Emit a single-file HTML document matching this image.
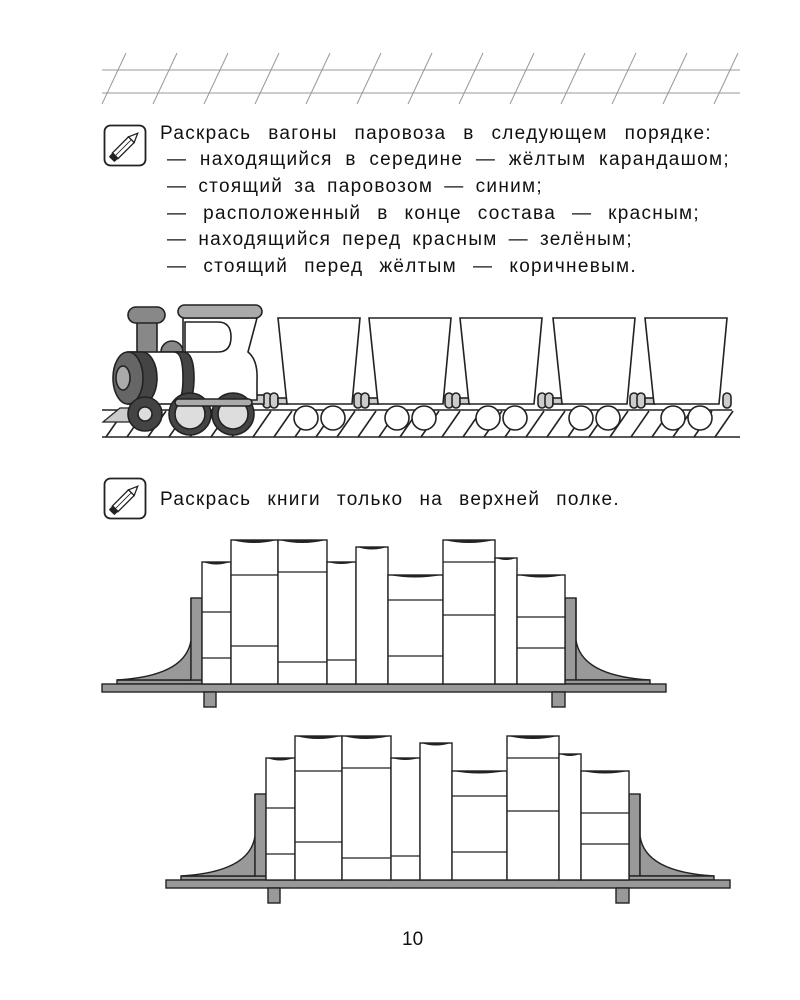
<!DOCTYPE html>
<html><head><meta charset="utf-8"><style>
html,body{margin:0;padding:0;background:#fff}
svg{display:block}
.t{position:absolute;font-family:"Liberation Sans",sans-serif;font-size:19px;letter-spacing:1.3px;color:#111;text-align:justify;text-align-last:justify;white-space:nowrap;line-height:20px}
.t span{display:block}
</style></head><body>
<div style="position:relative;width:800px;height:1000px">
<svg width="800" height="1000" viewBox="0 0 800 1000" xmlns="http://www.w3.org/2000/svg" style="position:absolute;left:0;top:0">
<g stroke="#999" stroke-width="1" fill="none">
<line x1="102" y1="70" x2="740" y2="70"/>
<line x1="102" y1="93" x2="740" y2="93"/>
<g id="sl"><line x1="102" y1="104" x2="126" y2="53"/></g>
<use href="#sl" x="51"/><use href="#sl" x="102"/><use href="#sl" x="153"/><use href="#sl" x="204"/><use href="#sl" x="255"/><use href="#sl" x="306"/><use href="#sl" x="357"/><use href="#sl" x="408"/><use href="#sl" x="459"/><use href="#sl" x="510"/><use href="#sl" x="561"/><use href="#sl" x="612"/>
</g>
<g id="pen">
<rect x="104.5" y="125.5" width="41" height="40" rx="6" fill="none" stroke="#222" stroke-width="1.8"/>
<g transform="translate(125,146) rotate(-45)">
<rect x="-14" y="-4" width="23" height="8" fill="#fff" stroke="#222" stroke-width="1.3"/>
<rect x="-19" y="-4" width="6" height="8" rx="1" fill="#222"/>
<polygon points="9,-4 18,0 9,4" fill="#fff" stroke="#222" stroke-width="1.3"/>
<line x1="-13" y1="0" x2="9" y2="0" stroke="#222" stroke-width="0.8"/>
</g>
</g>
<use href="#pen" y="353"/>
<text x="402" y="945" style="font-family:'Liberation Sans',sans-serif;font-size:19px" fill="#111">10</text>

<g stroke="#222" stroke-width="1.6" fill="none">
<line x1="102" y1="410" x2="732" y2="410"/>
<line x1="102" y1="437" x2="740" y2="437"/>
<g id="h"><line x1="106" y1="437" x2="124" y2="411"/></g>
<use href="#h" x="21"/><use href="#h" x="42"/><use href="#h" x="63"/><use href="#h" x="84"/><use href="#h" x="105"/><use href="#h" x="126"/><use href="#h" x="147"/><use href="#h" x="168"/><use href="#h" x="189"/><use href="#h" x="210"/><use href="#h" x="231"/><use href="#h" x="252"/><use href="#h" x="273"/><use href="#h" x="294"/><use href="#h" x="315"/><use href="#h" x="336"/><use href="#h" x="357"/><use href="#h" x="378"/><use href="#h" x="399"/><use href="#h" x="420"/><use href="#h" x="441"/><use href="#h" x="462"/><use href="#h" x="483"/><use href="#h" x="504"/><use href="#h" x="525"/><use href="#h" x="546"/><use href="#h" x="567"/><use href="#h" x="588"/><use href="#h" x="609"/>
</g>
<polygon points="103,422 120,408 150,408 150,422" fill="#ccc" stroke="#222" stroke-width="1.2"/>

<g id="car" stroke="#222" stroke-width="1.6">
<rect x="263" y="393" width="8" height="15" rx="4" fill="#ccc"/>
<rect x="270" y="393" width="8" height="15" rx="4" fill="#ccc"/>
<rect x="278" y="398" width="10" height="6" fill="#ccc"/>
<polygon points="278,318 360,318 352,404 287,404" fill="#fff"/>
<circle cx="306" cy="418" r="12" fill="#fff"/>
<circle cx="333" cy="418" r="12" fill="#fff"/>
</g>
<use href="#car" x="91"/><use href="#car" x="182"/><use href="#car" x="275"/><use href="#car" x="367"/>
<rect x="723" y="393" width="8" height="15" rx="4" fill="#ccc" stroke="#222" stroke-width="1.6"/>

<g stroke="#222" stroke-width="1.6">
<rect x="250" y="395" width="14" height="9" fill="#ccc"/>
<path d="M183,318 L257,318 L248,352 Q258,360 257,380 L257,400 L160,400 L160,352 L183,352 Z" fill="#fff"/>
<rect x="178" y="305" width="84" height="13" rx="6.5" fill="#aaa"/>
<path d="M185,322 L218,322 Q231,322 231,337 Q231,352 218,352 L185,352 Z" fill="#fff"/>
<rect x="137" y="320" width="20" height="33" fill="#888"/>
<rect x="128" y="307" width="37" height="16" rx="8" fill="#888"/>
<path d="M161,352 A11,11 0 0 1 183,352 Z" fill="#888"/>
<rect x="128" y="352" width="56" height="52" fill="#fff"/>
<path d="M174,352 L183,352 Q194,352 194,378 Q194,404 183,404 L174,404 Q183,404 183,378 Q183,352 174,352 Z" fill="#444"/>
<path d="M128,352 L142,352 A15,26 0 0 1 142,404 L128,404 Z" fill="#444"/>
<ellipse cx="128" cy="378" rx="15" ry="26" fill="#666"/>
<ellipse cx="123" cy="378" rx="7" ry="12" fill="#aaa"/>
<circle cx="145" cy="414" r="17" fill="#444"/>
<circle cx="145" cy="414" r="7" fill="#ddd"/>
<circle cx="190" cy="414" r="21" fill="#444"/>
<circle cx="190" cy="414" r="15" fill="#ddd"/>
<circle cx="233" cy="414" r="21" fill="#444"/>
<circle cx="233" cy="414" r="15" fill="#ddd"/>
<rect x="175" y="399" width="77" height="7" rx="3.5" fill="#aaa"/>
</g>

<g id="shelf" stroke="#222" stroke-width="1.4">
<rect x="117" y="680" width="85" height="4" fill="#999"/>
<path d="M191,598 L191,640 Q186,676 117,680 L191,680 Z" fill="#999"/>
<rect x="191" y="598" width="11" height="82" fill="#999"/>
<rect x="565" y="598" width="11" height="82" fill="#999"/>
<path d="M576,598 L576,640 Q581,676 650,680 L576,680 Z" fill="#999"/>
<rect x="565" y="680" width="85" height="4" fill="#999"/>
<rect x="102" y="684" width="564" height="8" fill="#999"/>
<rect x="204" y="692" width="12" height="15" fill="#999"/>
<rect x="552" y="692" width="13" height="15" fill="#999"/>
<g fill="#fff">
<rect x="202" y="562" width="29" height="122"/>
<rect x="231" y="540" width="47" height="144"/>
<rect x="278" y="540" width="49" height="144"/>
<rect x="327" y="562" width="29" height="122"/>
<rect x="356" y="547" width="32" height="137"/>
<rect x="388" y="575" width="55" height="109"/>
<rect x="443" y="540" width="52" height="144"/>
<rect x="495" y="558" width="22" height="126"/>
<rect x="517" y="575" width="48" height="109"/>
</g>
<g stroke-width="1.2">
<line x1="202" y1="612" x2="231" y2="612"/><line x1="202" y1="658" x2="231" y2="658"/>
<line x1="231" y1="575" x2="278" y2="575"/><line x1="231" y1="646" x2="278" y2="646"/>
<line x1="278" y1="572" x2="327" y2="572"/><line x1="278" y1="662" x2="327" y2="662"/>
<line x1="327" y1="660" x2="356" y2="660"/>
<line x1="388" y1="600" x2="443" y2="600"/><line x1="388" y1="656" x2="443" y2="656"/>
<line x1="443" y1="562" x2="495" y2="562"/><line x1="443" y1="615" x2="495" y2="615"/>
<line x1="517" y1="617" x2="565" y2="617"/><line x1="517" y1="648" x2="565" y2="648"/>
</g>
<g fill="#222" stroke="none">
<path d="M203,562 Q216,567 230,562 Z"/><path d="M232,540 Q254,546 277,540 Z"/><path d="M279,540 Q302,546 326,540 Z"/>
<path d="M328,562 Q341,566 355,562 Z"/><path d="M357,547 Q372,552 387,547 Z"/><path d="M389,575 Q415,580 442,575 Z"/>
<path d="M444,540 Q469,546 494,540 Z"/><path d="M496,558 Q506,562 516,558 Z"/><path d="M518,575 Q541,580 564,575 Z"/>
</g>
</g>
<use href="#shelf" x="64" y="196"/>
</svg>
<div class="t" style="left:160px;top:124px;width:552px"><span>Раскрась вагоны паровоза в следующем порядке:</span></div>
<div class="t" style="left:167px;top:150px;width:563px"><span>— находящийся в середине — жёлтым карандашом;</span></div>
<div class="t" style="left:167px;top:177px;width:376px"><span>— стоящий за паровозом — синим;</span></div>
<div class="t" style="left:167px;top:204px;width:533px"><span>— расположенный в конце состава — красным;</span></div>
<div class="t" style="left:167px;top:230px;width:466px"><span>— находящийся перед красным — зелёным;</span></div>
<div class="t" style="left:167px;top:257px;width:470px"><span>— стоящий перед жёлтым — коричневым.</span></div>
<div class="t" style="left:160px;top:490px;width:460px"><span>Раскрась книги только на верхней полке.</span></div>
</div>
</body></html>
